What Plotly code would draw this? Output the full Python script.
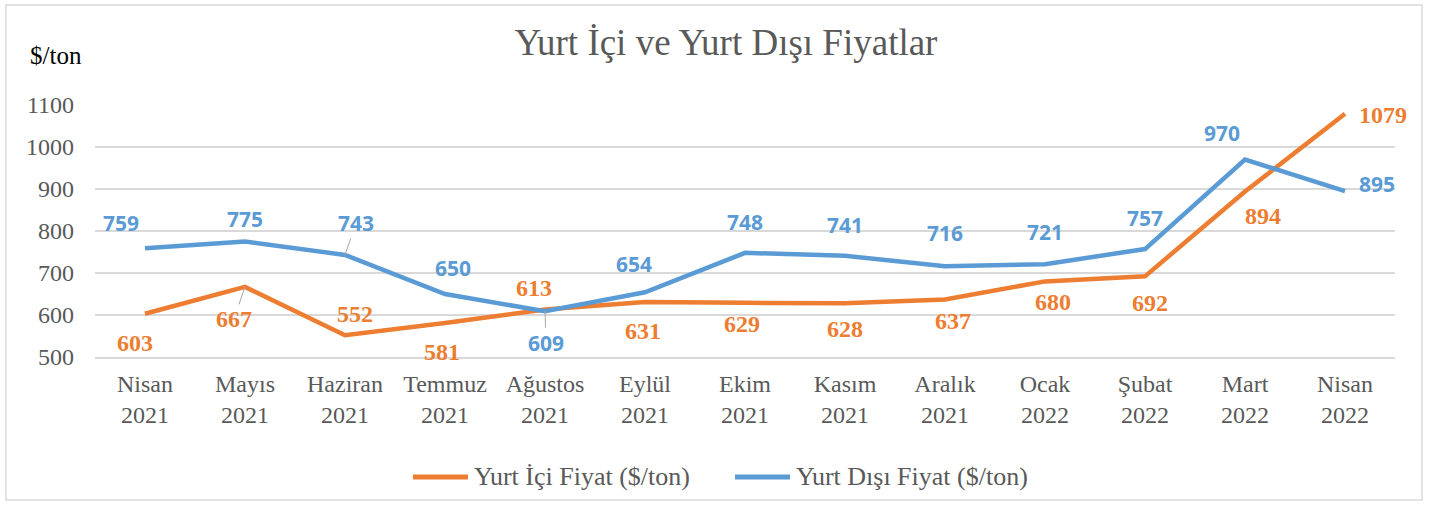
import plotly.graph_objects as go

# aylar ve fiyatlar ($/ton)
months = ["Nisan<br>2021", "Mayıs<br>2021", "Haziran<br>2021", "Temmuz<br>2021",
          "Ağustos<br>2021", "Eylül<br>2021", "Ekim<br>2021", "Kasım<br>2021",
          "Aralık<br>2021", "Ocak<br>2022", "Şubat<br>2022", "Mart<br>2022",
          "Nisan<br>2022"]
yurt_ici = [603, 667, 552, 581, 613, 631, 629, 628, 637, 680, 692, 894, 1079]
yurt_disi = [759, 775, 743, 650, 609, 654, 748, 741, 716, 721, 757, 970, 895]
series_names = ["Yurt İçi Fiyat ($/ton)", "Yurt Dışı Fiyat ($/ton)"]

ORANGE = "#ED7D31"
BLUE = "#5B9BD5"
GRID = "#d9d9d9"
TXT = "#595959"
SERIF = "Liberation Serif, Times New Roman, serif"

# label offsets in px (dx, dy screen-down), True = leader line
ici_off = [(-10, 29, False), (-11, 32, True), (10, -21, False), (-3, 29, False),
           (-11, -22, False), (-2, 29, False), (-3, 21, False), (0, 26, False),
           (8, 22, False), (8, 21, False), (5, 27, False), (18, 24, False),
           (38, 1, False)]
disi_off = [(-24, -25, False), (0, -23, False), (11, -32, True), (8, -26, False),
            (1, 32, True), (-11, -28, False), (0, -31, False), (0, -31, False),
            (0, -33, False), (0, -32, False), (0, -31, False), (-23, -27, False),
            (32, -7, False)]

fig = go.Figure()
fig.add_trace(go.Scatter(x=months, y=yurt_ici, mode="lines", name=series_names[0],
                         line=dict(color=ORANGE, width=4.5), showlegend=False))
fig.add_trace(go.Scatter(x=months, y=yurt_disi, mode="lines", name=series_names[1],
                         line=dict(color=BLUE, width=4.5), showlegend=False))

annots = []


def add_labels(vals, offs, font):
    for m, v, (dx, dy, leader) in zip(months, vals, offs):
        if leader:
            annots.append(dict(x=m, y=v, text=str(v), showarrow=True, arrowhead=0,
                               arrowwidth=1, arrowcolor="#a6a6a6", ax=dx, ay=dy,
                               font=font))
        else:
            annots.append(dict(x=m, y=v, text=str(v), showarrow=False,
                               xshift=dx, yshift=-dy, font=font))


add_labels(yurt_ici, ici_off, dict(family=SERIF, size=24, color=ORANGE, weight="bold"))
add_labels(yurt_disi, disi_off, dict(family="Open Sans, sans-serif", size=21, color=BLUE,
                                     weight="bold"))

annots.append(dict(xref="paper", yref="paper", x=-0.0515, y=1.198, xanchor="left",
                   yanchor="middle", text="$/ton", showarrow=False,
                   font=dict(family=SERIF, size=25, color="black")))

shapes = [dict(type="rect", xref="paper", yref="paper", x0=-0.0685, x1=1.0208,
               y0=-0.5675, y1=1.397, line=dict(color=GRID, width=1.5))]

# hand-made legend with longer line keys
LEG_Y = -0.476
for name, col, (lx0, lx1) in zip(series_names, [ORANGE, BLUE],
                                 [(0.2446, 0.2869), (0.4923, 0.5346)]):
    shapes.append(dict(type="line", xref="paper", yref="paper", x0=lx0, x1=lx1,
                       y0=LEG_Y, y1=LEG_Y, line=dict(color=col, width=5)))
    annots.append(dict(xref="paper", yref="paper", x=lx1 + 0.003, y=LEG_Y,
                       xanchor="left", yanchor="middle", text=name, showarrow=False,
                       font=dict(family=SERIF, size=26, color=TXT)))

fig.update_layout(
    width=1429, height=506,
    margin=dict(l=95, r=34, t=105, b=149, autoexpand=False),
    paper_bgcolor="white", plot_bgcolor="white",
    title=dict(text="Yurt İçi ve Yurt Dışı Fiyatlar", x=0.508, xanchor="center",
               y=0.917, yanchor="middle", font=dict(family=SERIF, size=37, color=TXT)),
    font=dict(family=SERIF, color=TXT),
    showlegend=False,
    annotations=annots,
    shapes=shapes,
)
fig.update_xaxes(range=[-0.5, 12.5], showgrid=False, showline=True, linecolor=GRID,
                 linewidth=1.5, ticks="", tickfont=dict(family=SERIF, size=24, color=TXT),
                 ticklabelstandoff=4)
fig.update_yaxes(range=[500, 1100], dtick=100, showgrid=True, gridcolor=GRID, gridwidth=1.5,
                 zeroline=False, showline=False, ticks="",
                 tickfont=dict(family=SERIF, size=24, color=TXT), ticklabelstandoff=20)

# page margin off so the figure sits at the window corner
fig.write_html("out.html", config={"displayModeBar": False},
               post_script="document.body.style.margin='0';")
